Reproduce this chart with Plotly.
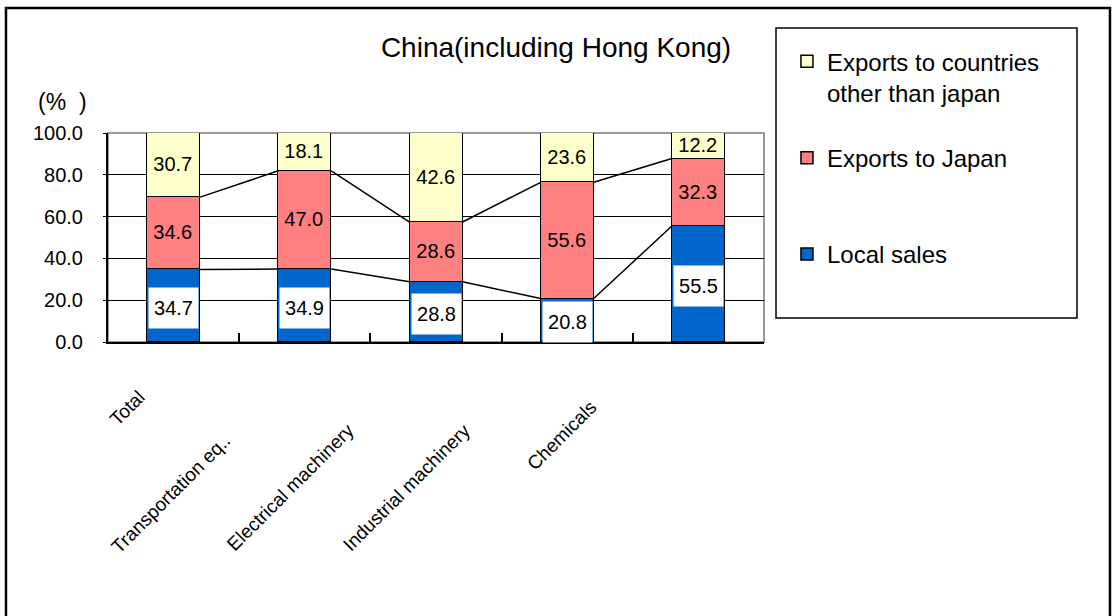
import plotly.graph_objects as go

# ---- data ----
categories = ["Total", "Transportation eq..", "Electrical machinery", "Industrial machinery", "Chemicals"]
local_sales = [34.7, 34.9, 28.8, 20.8, 55.5]
exports_japan = [34.6, 47.0, 28.6, 55.6, 32.3]
exports_other = [30.7, 18.1, 42.6, 23.6, 12.2]
y_ticks = [0, 20, 40, 60, 80, 100]

# ---- styles ----
FONT = "Liberation Sans, Arial, sans-serif"
C_LOCAL = "#0066CC"
C_JAPAN = "#FF8080"
C_OTHER = "#FFFFCC"
BAR_W = 0.404

# label placement offsets (pixels) for rotated category labels (centre of text)
label_xshift = [-47, -134, -146, -161, -137]
label_yshift = [-66, -151, -145, -145, -93]

x = list(range(len(categories)))

fig = go.Figure()

fig.add_trace(go.Bar(
    x=x, y=local_sales, name="Local sales", width=BAR_W,
    marker=dict(color=C_LOCAL, line=dict(color="black", width=1.5)),
    legendgroup="c", legendrank=3,
))
fig.add_trace(go.Bar(
    x=x, y=exports_japan, name="Exports to Japan<br>\u00a0", width=BAR_W,
    marker=dict(color=C_JAPAN, line=dict(color="black", width=1.5)),
    texttemplate="%{y:.1f}", textposition="inside", insidetextanchor="middle",
    textangle=0, textfont=dict(family=FONT, size=20, color="black"),
    legendgroup="b", legendrank=2,
))
fig.add_trace(go.Bar(
    x=x, y=exports_other, name="Exports to countries<br>other than japan", width=BAR_W,
    marker=dict(color=C_OTHER, line=dict(color="black", width=1.5)),
    texttemplate="%{y:.1f}", textposition="inside", insidetextanchor="middle",
    textangle=0, textfont=dict(family=FONT, size=20, color="black"),
    legendgroup="a", legendrank=1,
))

# series lines connecting the segment tops between adjacent bars
cum1 = local_sales
cum2 = [a + b for a, b in zip(local_sales, exports_japan)]
for cum in (cum1, cum2):
    lx, ly = [], []
    for i in range(len(x) - 1):
        lx += [x[i] + BAR_W / 2, x[i + 1] - BAR_W / 2, None]
        ly += [cum[i], cum[i + 1], None]
    fig.add_trace(go.Scatter(x=lx, y=ly, mode="lines", line=dict(color="black", width=1.5),
                             showlegend=False, hoverinfo="skip"))

annotations = []
# white-box labels for local sales
for i, v in enumerate(local_sales):
    annotations.append(dict(
        x=x[i], y=v / 2, xref="x", yref="y", text=f"{v:.1f}", showarrow=False,
        bgcolor="white", width=47, height=38, yshift=-2,
        xanchor="center", yanchor="middle",
        font=dict(family=FONT, size=20, color="black"),
    ))
# rotated category labels
for i, c in enumerate(categories):
    annotations.append(dict(
        x=x[i], y=0, xref="x", yref="paper", text=c, showarrow=False, textangle=-45,
        xanchor="center", yanchor="middle",
        xshift=label_xshift[i], yshift=label_yshift[i],
        font=dict(family=FONT, size=19, color="black"),
    ))
# (%) unit label
annotations.append(dict(
    x=-0.0686, y=1.146, xref="paper", yref="paper", text="(%  )", showarrow=False,
    xanchor="center", yanchor="middle",
    font=dict(family=FONT, size=23, color="black"),
))

shapes = [
    # plot area border (grey)
    dict(type="rect", xref="paper", yref="paper", x0=0, x1=1, y0=0, y1=1,
         line=dict(color="#999999", width=2), layer="below"),
    # legend box
    dict(type="rect", xref="paper", yref="paper", x0=1.0183, x1=1.4771, y0=0.1148, y1=1.5024,
         line=dict(color="black", width=1.5)),
    # outer chart border
    dict(type="rect", xref="paper", yref="paper", x0=-0.1555, x1=1.5274, y0=-1.35, y1=1.598,
         line=dict(color="black", width=2.5)),
]

fig.update_layout(
    width=1112, height=616,
    margin=dict(l=108, r=348, t=133, b=274),
    paper_bgcolor="white", plot_bgcolor="white",
    barmode="stack", bargap=0,
    font=dict(family=FONT, color="black"),
    title=dict(text="China(including Hong Kong)", x=0.5, xref="container", xanchor="center",
               y=1 - 47 / 616, yref="container", yanchor="middle",
               font=dict(family=FONT, size=28, color="black")),
    showlegend=True,
    legend=dict(x=1.035, y=1.449, xanchor="left", yanchor="top", xref="paper", yref="paper",
                traceorder="grouped", tracegroupgap=31, valign="top",
                font=dict(family=FONT, size=24, color="black"),
                bgcolor="rgba(0,0,0,0)", borderwidth=0),
    uniformtext=dict(minsize=20, mode="show"),
    annotations=annotations,
    shapes=shapes,
    xaxis=dict(range=[-0.5, 4.5], tickvals=[0.5, 1.5, 2.5, 3.5, 4.5], showticklabels=False,
               ticks="inside", ticklen=9, tickwidth=1.5, tickcolor="black",
               showline=True, linecolor="black", linewidth=2, showgrid=False, zeroline=False),
    yaxis=dict(range=[0, 100], tickvals=y_ticks, tickformat=".1f",
               ticks="outside", ticklen=3, tickcolor="black", ticklabelstandoff=16,
               showline=True, linecolor="black", linewidth=2,
               showgrid=True, gridcolor="black", gridwidth=1.2, zeroline=False,
               tickfont=dict(family=FONT, size=20, color="black")),
)

fig.write_html("out.html")
